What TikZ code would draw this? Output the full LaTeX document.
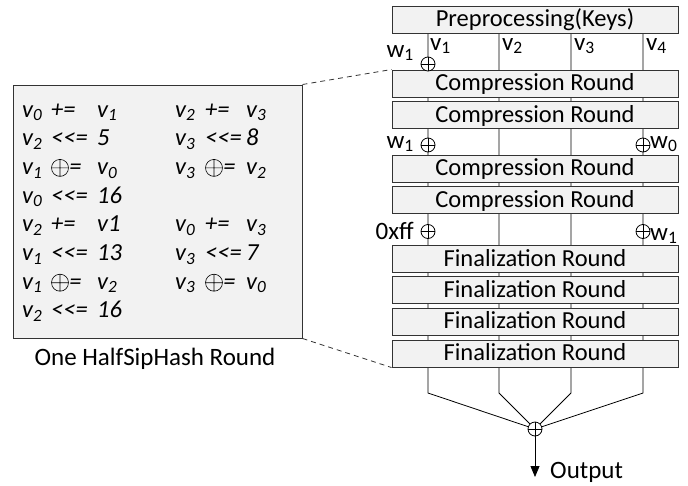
\documentclass[tikz,border=0pt]{standalone}
\usepackage{fontspec}
\setmainfont{Carlito}
\usetikzlibrary{arrows.meta,positioning,backgrounds}

\newcommand{\shl}{<\kern0pt<\kern0pt=}
\newcommand{\xoreq}{\tikz[baseline={(0pt,-6.5pt)}]\draw[line width=0.6pt] (0pt,0pt) circle (8.5pt) (-8.5pt,0pt) -- (8.5pt,0pt) (0pt,-8.5pt) -- (0pt,8.5pt);\kern0.5pt=}

\tikzset{
  roundbox/.style={draw=black!80, fill=black!5, line width=1pt, minimum width=286pt, minimum height=27pt, inner sep=0pt, text height=17pt, text depth=2.6pt, font=\fontsize{24.5}{28}\selectfont},
  codebox/.style={draw=black!80, fill=black!5, line width=1pt, minimum width=289pt, minimum height=253pt, inner sep=0pt},
  code/.style={inner sep=0pt, anchor=base west, font=\fontsize{24.5}{28}\selectfont\itshape},
  lbl/.style={inner sep=0pt, font=\fontsize{25}{28}\selectfont},
  wire/.style={line width=0.8pt},
  zoomline/.style={line width=0.8pt, draw=black!80, dash pattern=on 5pt off 4pt},
  xorop/.style={circle, draw, fill=white, line width=0.8pt, minimum size=14pt, inner sep=0pt,
    path picture={\draw[line width=0.8pt] (path picture bounding box.north) -- (path picture bounding box.south)
      (path picture bounding box.west) -- (path picture bounding box.east);}},
}

\begin{document}
\begin{tikzpicture}[x=1pt, y=-1pt]
    \useasboundingbox (0,0) rectangle (688,485);

    % rounds
    \node[roundbox] (pre) at (535,19.5) {Preprocessing(Keys)};
    \node[roundbox] (c1) at (535,83.5) {Compression Round};
    \node[roundbox] (c2) at (535,115) {Compression Round};
    \node[roundbox] (c3) at (535,168.5) {Compression Round};
    \node[roundbox] (c4) at (535,200) {Compression Round};
    \node[roundbox] (f1) at (535,259) {Finalization Round};
    \node[roundbox] (f2) at (535,290) {Finalization Round};
    \node[roundbox] (f3) at (535,321.5) {Finalization Round};
    \node[roundbox] (f4) at (535,353.5) {Finalization Round};

    % xor points
    \node[xorop] (x1) at (428,64) {};
    \node[xorop] (x2) at (428,145) {};
    \node[xorop] (x3) at (643,145) {};
    \node[xorop] (x4) at (428,231.5) {};
    \node[xorop] (x5) at (643,231.5) {};
    \node[xorop] (out) at (535,429) {};

    \coordinate (b1) at (428,393);
    \coordinate (b2) at (499,393);
    \coordinate (b3) at (571,393);
    \coordinate (b4) at (643,393);
    \coordinate (tip) at (535,477);

    \begin{scope}[on background layer]
        \foreach \k in {1,...,4}
            \draw[wire] (pre.south -| b\k) -- (b\k) -- (out);
    \end{scope}
    \draw[wire, -{Triangle[width=9pt,length=11pt]}] (out) -- (tip);
    \node[lbl, anchor=west] (outlbl) at (550,472) {Output};

    % labels
    \node[lbl, anchor=base east] (w1a) at (414,57) {w\textsubscript{1}};
    \node[lbl, anchor=base west] (v1) at (430,50) {v\textsubscript{1}};
    \node[lbl, anchor=base west] (v2) at (502,50) {v\textsubscript{2}};
    \node[lbl, anchor=base west] (v3) at (574,50) {v\textsubscript{3}};
    \node[lbl, anchor=base west] (v4) at (646,50) {v\textsubscript{4}};
    \node[lbl, anchor=base east] (w1b) at (414,148) {w\textsubscript{1}};
    \node[lbl, anchor=base west] (w0) at (650,148) {w\textsubscript{0}};
    \node[lbl, anchor=base east] (xff) at (414,239) {0xff};
    \node[lbl, anchor=base west] (w1c) at (650,240) {w\textsubscript{1}};

    % one round
    \node[codebox] (rnd) at (157.5,211.5) {};
    \foreach \i/\a/\b/\c in {0/v\textsubscript{0}/+=/v\textsubscript{1}, 1/v\textsubscript{2}/\shl/5,
        2/v\textsubscript{1}/\xoreq/v\textsubscript{0}, 3/v\textsubscript{0}/\shl/16,
        4/v\textsubscript{2}/+=/v1, 5/v\textsubscript{1}/\shl/13,
        6/v\textsubscript{1}/\xoreq/v\textsubscript{2}, 7/v\textsubscript{2}/\shl/16} {
        \node[code] (la\i) at (22,{117+28.7*\i}) {\a};
        \node[code] (lb\i) at (51,{117+28.7*\i}) {\b};
        \node[code] (lc\i) at (97,{117+28.7*\i}) {\c};
    }
    \foreach \i/\a/\b/\c in {0/v\textsubscript{2}/+=/v\textsubscript{3}, 1/v\textsubscript{3}/\shl/8,
        2/v\textsubscript{3}/\xoreq/v\textsubscript{2}, 4/v\textsubscript{0}/+=/v\textsubscript{3},
        5/v\textsubscript{3}/\shl/7, 6/v\textsubscript{3}/\xoreq/v\textsubscript{0}} {
        \node[code] (ra\i) at (175,{117+28.7*\i}) {\a};
        \node[code] (rb\i) at (205,{117+28.7*\i}) {\b};
        \node[code] (rc\i) at (246,{117+28.7*\i}) {\c};
    }
    \node[lbl, anchor=base] (cap) at (155,365) {One HalfSipHash Round};

    \draw[zoomline] (rnd.north east) -- (c1.north west);
    \draw[zoomline] (rnd.south east) -- (f4.south west);
\end{tikzpicture}
\end{document}
